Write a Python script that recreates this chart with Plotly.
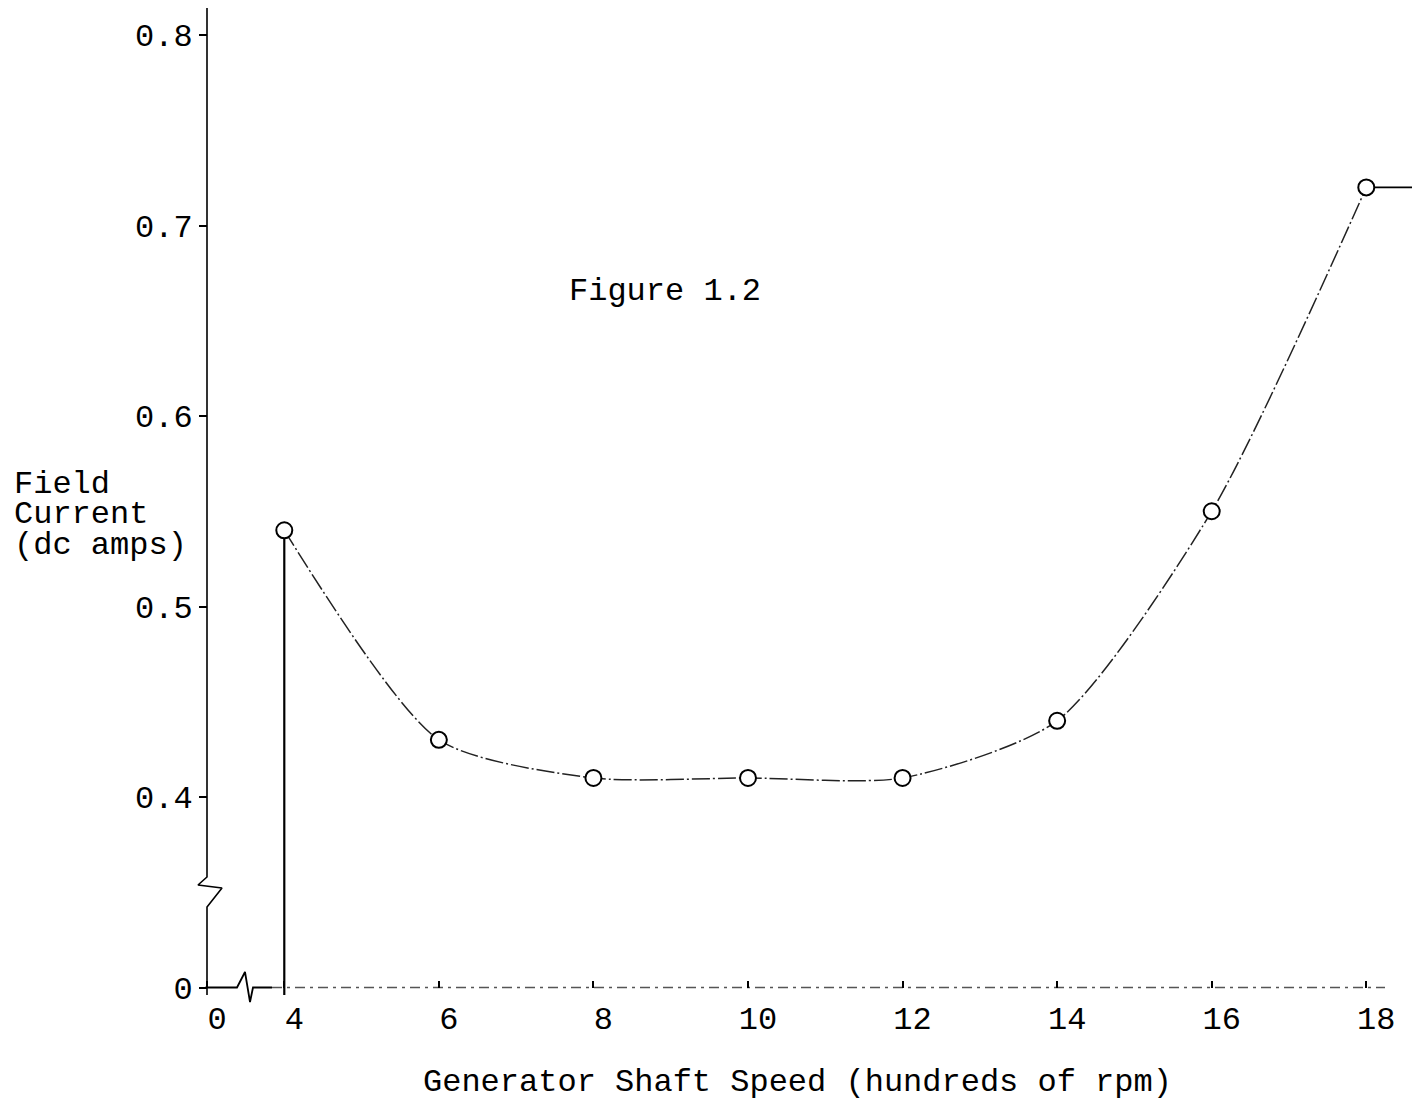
import plotly.graph_objects as go

# ---- data ----
speed = [4, 6, 8, 10, 12, 14, 16, 18]                        # hundreds of rpm
current = [0.54, 0.43, 0.41, 0.41, 0.41, 0.44, 0.55, 0.72]   # dc amps
tail_speed = [18, 18.67]
tail_current = [0.72, 0.72]

x_tick_text = ["0", "4", "6", "8", "10", "12", "14", "16", "18"]
x_tick_vals_real = [4, 6, 8, 10, 12, 14, 16, 18]
y_tick_text = ["0", "0.4", "0.5", "0.6", "0.7", "0.8"]
y_tick_vals_real = [0.4, 0.5, 0.6, 0.7, 0.8]

# broken axes: where "0" sits on each compressed axis
X_ZERO = 3.0
Y_ZERO = 0.30

OFF = 8                      # page body margin
W, H = 1420 - 2 * OFF, 1108 - 2 * OFF
FONT = "Liberation Mono, DejaVu Sans Mono, monospace"
FS = 32

# calibration (in page pixels)
x_px_per_unit = 77.286
x0_px = 207.0   # page pixel of X_ZERO
y_px_per_unit = 1905.0
y08_px = 35.0   # page pixel of 0.8

x_range = [X_ZERO - (x0_px - OFF) / x_px_per_unit, X_ZERO + (OFF + W - x0_px) / x_px_per_unit]
y_range = [0.8 - (OFF + H - y08_px) / y_px_per_unit, 0.8 + (y08_px - OFF) / y_px_per_unit]

def px_to_x(px):
    return X_ZERO + (px - x0_px) / x_px_per_unit

def py_to_y(py):
    return 0.8 - (py - y08_px) / y_px_per_unit

def paper_x(px):
    return (px - OFF) / W

def paper_y(py):
    return 1 - (py - OFF) / H

fig = go.Figure()

# y axis line with break symbol
fig.add_trace(go.Scatter(
    x=[X_ZERO, X_ZERO, px_to_x(198), px_to_x(222), X_ZERO, X_ZERO],
    y=[py_to_y(8), py_to_y(877), py_to_y(885), py_to_y(888), py_to_y(907), py_to_y(995)],
    mode="lines", line=dict(color="black", width=1.6), hoverinfo="skip", showlegend=False))

# x axis line with break symbol (left solid part)
fig.add_trace(go.Scatter(
    x=[X_ZERO - 0.02, px_to_x(237), px_to_x(245), px_to_x(250), px_to_x(253), px_to_x(272)],
    y=[Y_ZERO, Y_ZERO, py_to_y(972), py_to_y(1002), Y_ZERO, Y_ZERO],
    mode="lines", line=dict(color="black", width=1.8), hoverinfo="skip", showlegend=False))
# x axis line (right, faint dashed part)
fig.add_trace(go.Scatter(
    x=[px_to_x(272), px_to_x(1385)], y=[Y_ZERO, Y_ZERO],
    mode="lines", line=dict(color="#555", width=1.3, dash="10px,5px,3px,5px"),
    hoverinfo="skip", showlegend=False))

# vertical drop at first point
fig.add_trace(go.Scatter(
    x=[speed[0], speed[0]], y=[Y_ZERO - 0.004, current[0]],
    mode="lines", line=dict(color="black", width=2.2), hoverinfo="skip", showlegend=False))

# main curve
fig.add_trace(go.Scatter(
    x=speed, y=current, mode="lines",
    line=dict(color="#222", width=1.5, shape="spline", smoothing=0.7, dash="18px,3px,2px,3px"),
    hoverinfo="skip", showlegend=False))
# tail
fig.add_trace(go.Scatter(
    x=tail_speed, y=tail_current, mode="lines",
    line=dict(color="black", width=1.6), hoverinfo="skip", showlegend=False))
# markers
fig.add_trace(go.Scatter(
    x=speed, y=current, mode="markers",
    marker=dict(symbol="circle", size=16, color="white", line=dict(color="black", width=2)),
    showlegend=False))

fig.update_layout(
    width=W, height=H,
    margin=dict(l=0, r=0, t=0, b=0, pad=0),
    plot_bgcolor="white", paper_bgcolor="white",
    font=dict(family=FONT, size=FS, color="black"),
    xaxis=dict(
        range=x_range, domain=[0, 1], anchor="free", position=paper_y(988),
        showgrid=False, zeroline=False, showline=False,
        tickmode="array", tickvals=[X_ZERO] + x_tick_vals_real, ticktext=x_tick_text,
        ticks="inside", ticklen=7, tickwidth=1.5, tickcolor="black",
        ticklabelstandoff=8, ticklabelshift=10,
        tickfont=dict(family=FONT, size=FS, color="black"),
    ),
    yaxis=dict(
        range=y_range, domain=[0, 1], anchor="free", position=paper_x(x0_px),
        showgrid=False, zeroline=False, showline=False,
        tickmode="array", tickvals=[Y_ZERO] + y_tick_vals_real, ticktext=y_tick_text,
        ticks="outside", ticklen=8, tickwidth=1.5, tickcolor="black",
        tickfont=dict(family=FONT, size=FS, color="black"),
    ),
)

ann_font = dict(family=FONT, size=FS, color="black")
fig.add_annotation(text="Figure 1.2", xref="paper", yref="paper",
                   x=paper_x(665), y=paper_y(292), xanchor="center", yanchor="middle",
                   showarrow=False, font=ann_font)
for txt, py in [("Field", 484), ("Current", 514), ("(dc amps)", 545)]:
    fig.add_annotation(text=txt, xref="paper", yref="paper", x=paper_x(12), y=paper_y(py),
                       xanchor="left", yanchor="middle", showarrow=False, font=ann_font)
fig.add_annotation(text="Generator Shaft Speed (hundreds of rpm)", xref="paper", yref="paper",
                   x=paper_x(797), y=paper_y(1082), xanchor="center", yanchor="middle",
                   showarrow=False, font=ann_font)

fig.write_html("out.html")
